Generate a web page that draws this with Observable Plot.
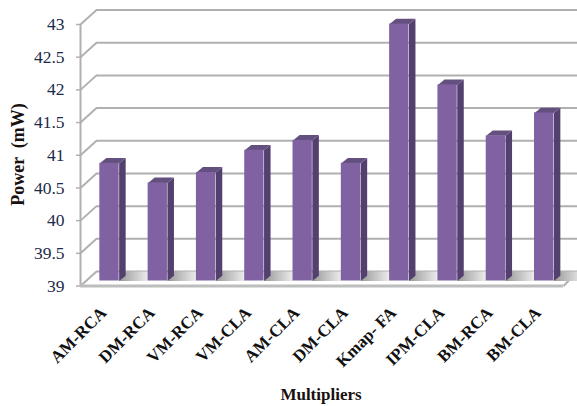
<!DOCTYPE html>
<html>
<head>
<meta charset="utf-8">
<script src="https://cdn.jsdelivr.net/npm/d3@7"></script>
<script src="https://cdn.jsdelivr.net/npm/@observablehq/plot@0.6"></script>
<style>
  html, body { margin: 0; padding: 0; background: #fff; }
  svg { display: block; }
  svg text { white-space: pre; }
</style>
</head>
<body>
<script>
// Power consumption of each multiplier design
const multipliers = ["AM-RCA", "DM-RCA", "VM-RCA", "VM-CLA", "AM-CLA", "DM-CLA", "Kmap- FA", "IPM-CLA", "BM-RCA", "BM-CLA"];
const powerMw = [40.8, 40.5, 40.66, 41.0, 41.15, 40.8, 42.93, 42.0, 41.22, 41.57];
const powerTicks = [39, 39.5, 40, 40.5, 41, 41.5, 42, 42.5, 43];

// Pseudo-3D projection: depth expressed in axis units
const wallDx = 0.331, wallDy = 0.2217;    // floor depth
const barDx = 0.135, barDy = 0.082;       // bar depth
const barLeft = 0.4, barRight = 0.8;      // bar extent inside its category
const floorY = 39;
const barShift = -5;                      // bars stand slightly behind the front edge
const shadowLength = 0.6, shadowDepth = 0.145;

const bars = multipliers.map((name, i) => ({name, i, value: powerMw[i]}));
const poly = (fn) => bars.flatMap((b) => fn(b).map(([x, y]) => ({id: b.name, x, y})));

const sideFaces = poly((b) => [
  [b.i + barRight, floorY], [b.i + barRight + barDx, floorY + barDy],
  [b.i + barRight + barDx, b.value + barDy], [b.i + barRight, b.value]
]);
const topFaces = poly((b) => [
  [b.i + barLeft, b.value], [b.i + barRight, b.value],
  [b.i + barRight + barDx, b.value + barDy], [b.i + barLeft + barDx, b.value + barDy]
]);
const floorShadows = poly((b) => [
  [b.i + barRight, floorY], [b.i + barRight + shadowLength, floorY],
  [b.i + barRight + shadowLength + barDx, floorY + shadowDepth], [b.i + barRight + barDx, floorY + shadowDepth]
]);

const grey = "#b0b0b0";
const shadowGradient = () => {
  const g = d3.create("svg:linearGradient").attr("id", "floor-shadow");
  g.append("stop").attr("offset", "0%").attr("stop-color", "#999999");
  g.append("stop").attr("offset", "100%").attr("stop-color", "#ffffff");
  const defs = d3.create("svg:defs");
  defs.append(() => g.node());
  return defs.node();
};

const serif = "Liberation Serif";
const chart = Plot.plot({
  width: 577,
  height: 406,
  marginLeft: 80,
  marginRight: 14,
  marginTop: 24,
  marginBottom: 120.5,
  style: {background: "#fff"},
  x: {domain: [0, 10], range: [80, 563], axis: null},
  y: {domain: [39, 43], range: [285.5, 24], axis: null},
  marks: [
    shadowGradient,
    // left wall, floor and back-wall gridlines
    Plot.link(powerTicks, {x1: 0, y1: (d) => d, x2: wallDx, y2: (d) => d + wallDy, stroke: grey, strokeWidth: 2}),
    Plot.ruleY(powerTicks, {y: (d) => d + wallDy, x1: wallDx, x2: 10.3, stroke: grey, strokeWidth: 2}),
    Plot.link([floorY], {x1: 10, y1: (d) => d, x2: 10.29, y2: (d) => d + wallDy, stroke: grey, strokeWidth: 2}),
    Plot.ruleX([0], {y1: 39, y2: 43, stroke: grey, strokeWidth: 2}),
    Plot.ruleY([floorY], {x1: 0, x2: 10, stroke: "#bdbdbd", strokeWidth: 3}),
    Plot.axisY({ticks: powerTicks, anchor: "left", tickSize: 4, tickPadding: 12, stroke: grey, strokeWidth: 1.5,
      tickFormat: (d) => String(d), fontSize: 17.5, fontFamily: serif, fill: "#1d2b4a", label: null}),
    // bars
    Plot.line(floorShadows, {x: "x", y: "y", z: "id", fill: "url(#floor-shadow)", stroke: "none", dy: barShift}),
    Plot.line(sideFaces, {x: "x", y: "y", z: "id", fill: "#54406e", stroke: "none", dy: barShift}),
    Plot.line(topFaces, {x: "x", y: "y", z: "id", fill: "#63507f", stroke: "none", dy: barShift}),
    Plot.rect(bars, {x1: (d) => d.i + barLeft, x2: (d) => d.i + barRight, y1: floorY, y2: "value",
      fill: "#8062a3", dy: barShift}),
    // labels
    Plot.text(bars, {x: (d) => d.i + 0.6, y: floorY, text: "name", rotate: -45, textAnchor: "end", dx: -6, dy: 24,
      fontFamily: serif, fontWeight: "bold", fontSize: 17, fill: "#111"}),
    Plot.text(["Multipliers"], {frameAnchor: "top-left", dx: 240.5, dy: 363, text: (d) => d,
      textAnchor: "middle", fontFamily: serif, fontWeight: "bold", fontSize: 17, fill: "#1a1010"}),
    Plot.text(["Power  (mW)"], {frameAnchor: "top-left", dx: -69, dy: 130, text: (d) => d, rotate: -90,
      textAnchor: "middle", fontFamily: serif, fontWeight: "bold", fontSize: 18, fill: "#1a1010"})
  ]
});
document.body.append(chart);
</script>
</body>
</html>
